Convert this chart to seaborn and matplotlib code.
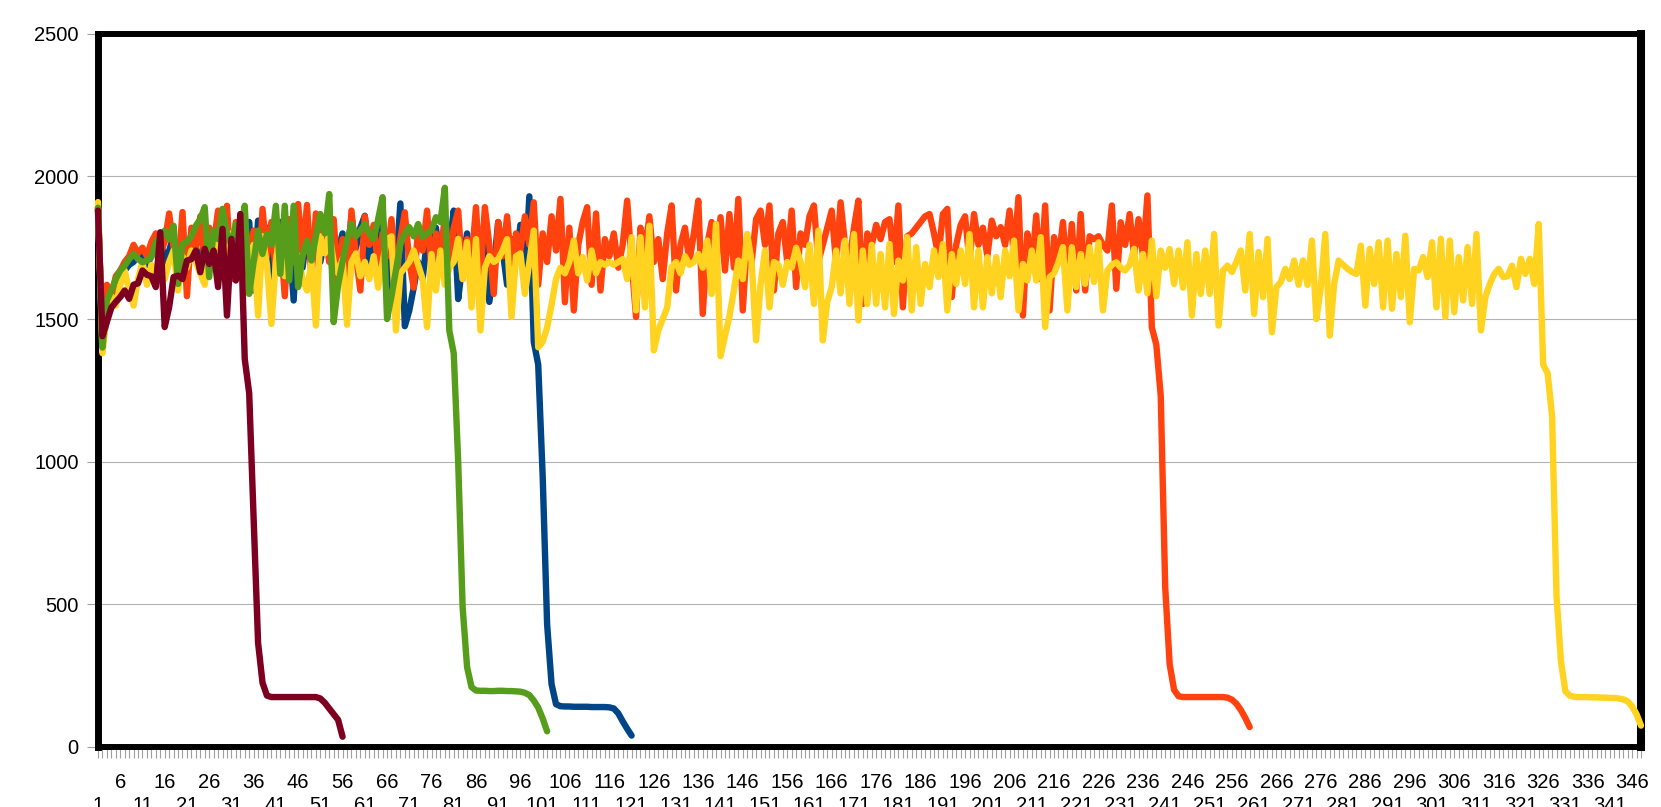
import numpy as np
import pandas as pd
import matplotlib
matplotlib.use("Agg")
import matplotlib.pyplot as plt
import seaborn as sns
from matplotlib.ticker import FixedLocator

# ---------------- data ----------------
series_names = ["Series 1", "Series 2", "Series 3", "Series 4", "Series 5"]
series_colors = ["#004586", "#ff420e", "#ffd320", "#579d1c", "#7e0021"]

blue = [
    1890, 1420, 1500, 1560, 1600, 1640, 1670, 1690, 1700, 1730,
    1710, 1690, 1720, 1760, 1790, 1700, 1740, 1790, 1680, 1760,
    1720, 1800, 1750, 1690, 1780, 1730, 1810, 1700, 1780, 1660,
    1800, 1720, 1830, 1690, 1840, 1600, 1845, 1700, 1820, 1570,
    1760, 1840, 1650, 1790, 1565, 1860, 1680, 1800, 1740, 1820,
    1700, 1780, 1830, 1600, 1740, 1800, 1700, 1860, 1750, 1820,
    1862, 1680, 1790, 1740, 1860, 1700, 1600, 1680, 1905, 1475,
    1530, 1610, 1700, 1640, 1780, 1720, 1820, 1690, 1800, 1750,
    1880, 1570, 1700, 1800, 1640, 1760, 1700, 1820, 1560, 1680,
    1840, 1740, 1620, 1780, 1700, 1830, 1640, 1930, 1420, 1340,
    950, 430, 220, 150, 143, 142, 142, 141, 141, 141,
    141, 140, 140, 140, 140, 139, 135, 118, 90, 64,
    40,
]

orange = [
    1890, 1430, 1620, 1580, 1650, 1670, 1700, 1720, 1760, 1730,
    1750, 1720, 1770, 1800, 1730, 1770, 1870, 1750, 1660, 1875,
    1580, 1820, 1740, 1860, 1700, 1820, 1760, 1880, 1700, 1897,
    1640, 1840, 1760, 1850, 1700, 1810, 1600, 1886, 1720, 1840,
    1660, 1800, 1580, 1850, 1700, 1903, 1720, 1900, 1640, 1870,
    1760, 1820, 1700, 1850, 1620, 1780, 1590, 1880, 1720, 1600,
    1860, 1760, 1830, 1680, 1800, 1720, 1850, 1620, 1780, 1874,
    1700, 1610, 1820, 1740, 1880, 1660, 1800, 1720, 1860, 1700,
    1820, 1880, 1640, 1780, 1700, 1892, 1640, 1892, 1760, 1588,
    1840, 1720, 1860, 1680, 1800, 1740, 1860, 1760, 1909, 1620,
    1800, 1700, 1860, 1740, 1921, 1559, 1820, 1530, 1760, 1840,
    1892, 1620, 1870, 1600, 1780, 1720, 1800, 1680, 1760, 1915,
    1700, 1507, 1820, 1740, 1860, 1700, 1780, 1640, 1800, 1898,
    1600, 1760, 1820, 1700, 1800, 1915, 1518, 1760, 1840, 1700,
    1857, 1670, 1868, 1680, 1921, 1530, 1780, 1700, 1850, 1880,
    1760, 1898, 1600, 1800, 1840, 1700, 1880, 1612, 1800, 1760,
    1860, 1898, 1700, 1760, 1820, 1880, 1690, 1909, 1760, 1700,
    1820, 1915, 1553, 1800, 1760, 1830, 1780, 1840, 1850, 1700,
    1898, 1541, 1790, 1800, 1820, 1840, 1860, 1868, 1800, 1720,
    1868, 1886, 1577, 1760, 1830, 1860, 1700, 1868, 1760, 1820,
    1720, 1845, 1790, 1822, 1760, 1880, 1720, 1927, 1512, 1800,
    1680, 1863, 1640, 1898, 1530, 1787, 1700, 1840, 1640, 1833,
    1600, 1868, 1600, 1790, 1780, 1790, 1760, 1740, 1898, 1606,
    1839, 1760, 1868, 1720, 1850, 1720, 1933, 1470, 1410, 1230,
    560, 290, 200, 178, 175, 175, 175, 175, 175, 175,
    175, 175, 175, 175, 173, 166, 152, 130, 102, 70,
]

yellow = [
    1910, 1380, 1520, 1580, 1547, 1620, 1670, 1600, 1547, 1640,
    1700, 1620, 1690, 1660, 1720, 1640, 1700, 1740, 1600, 1720,
    1680, 1740, 1700, 1660, 1620, 1760, 1700, 1780, 1640, 1700,
    1800, 1660, 1740, 1588, 1700, 1760, 1512, 1790, 1690, 1483,
    1700, 1820, 1650, 1790, 1740, 1720, 1640, 1600, 1700, 1477,
    1790, 1730, 1800, 1700, 1660, 1710, 1480, 1700, 1730, 1650,
    1700, 1640, 1720, 1610, 1700, 1780, 1790, 1460, 1660, 1680,
    1700, 1740, 1690, 1640, 1472, 1728, 1600, 1740, 1620, 1680,
    1700, 1781, 1640, 1770, 1541, 1780, 1460, 1680, 1720, 1700,
    1710, 1740, 1780, 1507, 1720, 1730, 1588, 1700, 1810, 1401,
    1420, 1470, 1550, 1640, 1680, 1660, 1700, 1775, 1660, 1717,
    1635, 1740, 1660, 1700, 1690, 1700, 1690, 1700, 1710, 1640,
    1787, 1530, 1787, 1541, 1827, 1390, 1460, 1500, 1540, 1682,
    1700, 1660, 1720, 1690, 1700, 1728, 1680, 1775, 1588, 1833,
    1370, 1440, 1510, 1600, 1705, 1640, 1798, 1700, 1425, 1620,
    1740, 1541, 1700, 1690, 1620, 1700, 1680, 1750, 1700, 1612,
    1760, 1553, 1810, 1425, 1560, 1612, 1740, 1590, 1775, 1553,
    1798, 1495, 1740, 1553, 1760, 1553, 1728, 1541, 1763, 1518,
    1705, 1635, 1787, 1530, 1752, 1553, 1693, 1612, 1740, 1647,
    1763, 1530, 1728, 1623, 1740, 1623, 1798, 1541, 1740, 1541,
    1717, 1590, 1717, 1577, 1740, 1650, 1775, 1530, 1693, 1635,
    1740, 1635, 1787, 1472, 1647, 1660, 1700, 1752, 1530, 1752,
    1612, 1728, 1623, 1752, 1630, 1769, 1530, 1670, 1690, 1699,
    1680, 1670, 1690, 1746, 1600, 1728, 1590, 1775, 1580, 1740,
    1680, 1745, 1623, 1740, 1610, 1769, 1512, 1728, 1588, 1740,
    1588, 1798, 1477, 1670, 1687, 1665, 1700, 1740, 1600, 1798,
    1518, 1735, 1577, 1781, 1454, 1612, 1630, 1676, 1640, 1705,
    1620, 1705, 1620, 1775, 1500, 1612, 1798, 1442, 1623, 1705,
    1690, 1676, 1665, 1658, 1757, 1547, 1746, 1623, 1769, 1541,
    1775, 1536, 1728, 1577, 1792, 1489, 1676, 1670, 1717, 1647,
    1769, 1541, 1781, 1507, 1775, 1524, 1717, 1565, 1752, 1553,
    1798, 1460, 1577, 1623, 1658, 1676, 1647, 1650, 1687, 1612,
    1711, 1658, 1711, 1623, 1833, 1340, 1310, 1160, 530, 300,
    195, 180, 176, 175, 175, 175, 174, 174, 173, 173,
    172, 172, 170, 167, 160, 142, 115, 75,
]

green = [
    1890, 1400, 1565, 1600, 1640, 1670, 1687, 1710, 1728, 1710,
    1699, 1705, 1717, 1769, 1790, 1810, 1780, 1827, 1623, 1763,
    1770, 1790, 1827, 1850, 1892, 1647, 1810, 1780, 1886, 1800,
    1760, 1833, 1800, 1897, 1588, 1700, 1810, 1728, 1798, 1760,
    1897, 1658, 1897, 1635, 1897, 1612, 1720, 1775, 1705, 1790,
    1868, 1800, 1938, 1489, 1620, 1700, 1775, 1833, 1790, 1810,
    1833, 1800, 1780, 1850, 1927, 1500, 1580, 1670, 1763, 1800,
    1822, 1790, 1833, 1787, 1800, 1810, 1857, 1840, 1960, 1460,
    1380, 1000, 490, 280, 210, 198, 197, 197, 196, 196,
    197, 197, 196, 196, 195, 194, 190, 182, 163, 138,
    100, 55,
]

maroon = [
    1880, 1440, 1490, 1540, 1560, 1577, 1600, 1571, 1620, 1625,
    1670, 1655, 1650, 1612, 1804, 1472, 1542, 1647, 1652, 1640,
    1705, 1710, 1740, 1664, 1746, 1693, 1740, 1612, 1816, 1512,
    1781, 1635, 1868, 1360, 1240, 800, 365, 225, 180, 175,
    175, 175, 175, 175, 175, 175, 175, 175, 175, 175,
    170, 155, 135, 115, 95, 36,
]

y_ticks = [0, 500, 1000, 1500, 2000, 2500]
n_categories = 348
upper_row_labels = list(range(6, n_categories + 1, 10))   # 6, 16, ..., 346
lower_row_labels = list(range(1, n_categories + 1, 10))   # 1, 11, ..., 341

# ---------------- build long-form table ----------------
frames = []
for name, vals in zip(series_names, [blue, orange, yellow, green, maroon]):
    frames.append(pd.DataFrame({
        "category": np.arange(1, len(vals) + 1),
        "value": vals,
        "series": name,
    }))
df = pd.concat(frames, ignore_index=True)

# ---------------- style ----------------
sns.set_theme(style="white")
plt.rcParams["font.family"] = ["Liberation Sans", "DejaVu Sans"]

W, H = 1661, 807
fig = plt.figure(figsize=(W / 100, H / 100), dpi=100)
ax = fig.add_axes([98 / W, 1 - 747 / H, (1641 - 98) / W, (747 - 33.7) / H])

sns.lineplot(
    data=df, x="category", y="value", hue="series",
    hue_order=series_names, palette=series_colors,
    linewidth=4.6, legend=False, ax=ax, estimator=None, sort=False,
)
for ln in ax.lines:
    ln.set_solid_joinstyle("round")
    ln.set_solid_capstyle("round")
    ln.set_zorder(3)
    ln.set_clip_on(False)

ax.set_xlim(1, n_categories)
ax.set_ylim(0, 2500)

FS = 14.5
TICK_LEN = 8
TICK_COL = "#a0a0a0"

# y axis
ax.set_yticks(y_ticks)
ax.set_yticklabels([str(v) for v in y_ticks])

# x axis: upper row of labels on the main axis, tick at every category
ax.xaxis.set_major_locator(FixedLocator(upper_row_labels))
ax.xaxis.set_minor_locator(FixedLocator(list(range(1, n_categories + 1))))
ax.set_xticklabels([str(v) for v in upper_row_labels])

ax.set_xlabel("")
ax.set_ylabel("")

ax.tick_params(axis="both", which="both", direction="out", length=TICK_LEN,
               width=0.8, color=TICK_COL, labelsize=FS, labelcolor="black",
               bottom=True, left=True)
ax.tick_params(axis="x", which="both", pad=10.8)
ax.tick_params(axis="y", which="both", pad=6)

# lower row of labels (staggered) on a secondary bottom axis
sec = ax.secondary_xaxis("bottom")
sec.set_xticks(lower_row_labels)
sec.set_xticklabels([str(v) for v in lower_row_labels])
sec.tick_params(axis="x", length=0, pad=35.0, labelsize=FS, labelcolor="black")
sec.spines["bottom"].set_visible(False)
sec.set_xlabel("")

ax.set_axisbelow(True)
ax.yaxis.grid(True, color="#b3b3b3", linewidth=0.8)
ax.xaxis.grid(False)

for side, lw in [("left", 5.0), ("bottom", 4.3), ("top", 4.3), ("right", 5.8)]:
    ax.spines[side].set_visible(True)
    ax.spines[side].set_color("black")
    ax.spines[side].set_linewidth(lw)

fig.savefig("out.png", dpi=100)
